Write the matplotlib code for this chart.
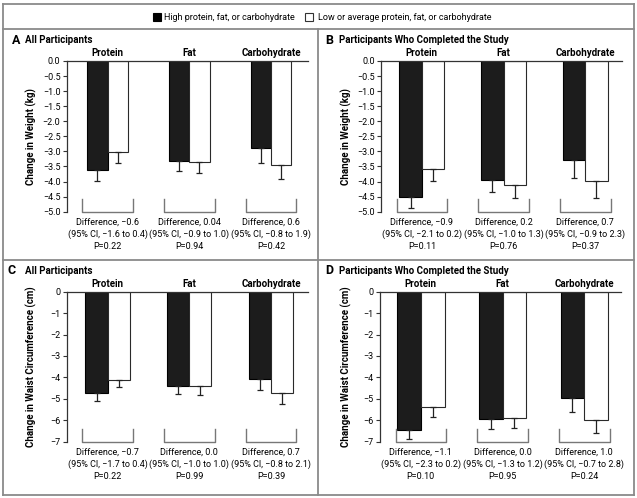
import numpy as np
import matplotlib.pyplot as plt
from matplotlib.patches import Rectangle
from matplotlib.lines import Line2D

plt.rcParams['font.family'] = ['Liberation Sans Narrow', 'Roboto', 'DejaVu Sans']

categories = ['Protein', 'Fat', 'Carbohydrate']

# weight, all participants (kg)
weight_all_high = [-3.63, -3.31, -2.90]
weight_all_high_err = [0.35, 0.34, 0.50]
weight_all_low = [-3.02, -3.34, -3.46]
weight_all_low_err = [0.35, 0.37, 0.47]

# weight, completers (kg)
weight_comp_high = [-4.51, -3.96, -3.27]
weight_comp_high_err = [0.38, 0.38, 0.60]
weight_comp_low = [-3.57, -4.13, -3.99]
weight_comp_low_err = [0.42, 0.42, 0.56]

# waist, all participants (cm)
waist_all_high = [-4.74, -4.40, -4.06]
waist_all_high_err = [0.38, 0.37, 0.54]
waist_all_low = [-4.11, -4.42, -4.71]
waist_all_low_err = [0.35, 0.40, 0.53]

# waist, completers (cm)
waist_comp_high = [-6.45, -5.96, -4.96]
waist_comp_high_err = [0.42, 0.45, 0.65]
waist_comp_low = [-5.38, -5.89, -6.00]
waist_comp_low_err = [0.48, 0.46, 0.58]

weight_ticks = [0.0, -0.5, -1.0, -1.5, -2.0, -2.5, -3.0, -3.5, -4.0, -4.5, -5.0]
waist_ticks = [0, -1, -2, -3, -4, -5, -6, -7]

diff_a = ['Difference, \u22120.6\n(95% CI, \u22121.6 to 0.4)\nP=0.22',
          'Difference, 0.04\n(95% CI, \u22120.9 to 1.0)\nP=0.94',
          'Difference, 0.6\n(95% CI, \u22120.8 to 1.9)\nP=0.42']
diff_b = ['Difference, \u22120.9\n(95% CI, \u22122.1 to 0.2)\nP=0.11',
          'Difference, 0.2\n(95% CI, \u22121.0 to 1.3)\nP=0.76',
          'Difference, 0.7\n(95% CI, \u22120.9 to 2.3)\nP=0.37']
diff_c = ['Difference, \u22120.7\n(95% CI, \u22121.7 to 0.4)\nP=0.22',
          'Difference, 0.0\n(95% CI, \u22121.0 to 1.0)\nP=0.99',
          'Difference, 0.7\n(95% CI, \u22120.8 to 2.1)\nP=0.39']
diff_d = ['Difference, \u22121.1\n(95% CI, \u22122.3 to 0.2)\nP=0.10',
          'Difference, 0.0\n(95% CI, \u22121.3 to 1.2)\nP=0.95',
          'Difference, 1.0\n(95% CI, \u22120.7 to 2.8)\nP=0.24']

W, H = 637, 498
FRAME = '#8a8a8a'


def fx(x):
    return x / W


def fy(y):
    return 1 - y / H


def fmt_tick(v, dec):
    s = f'{abs(v):.{dec}f}'
    return s if v == 0 else '\u2212' + s


fig = plt.figure(figsize=(W / 100, H / 100), dpi=100)

# outer frame and dividers
for xs, ys in [([3, 634], [4, 4]), ([3, 634], [495, 495]), ([3, 3], [4, 495]),
               ([634, 634], [4, 495]), ([3, 634], [29, 29]), ([3, 634], [260, 260]),
               ([318, 318], [29, 495])]:
    fig.add_artist(Line2D([fx(v) for v in xs], [fy(v) for v in ys], color=FRAME, lw=1.3))

# legend
fig.add_artist(Rectangle((fx(153), fy(21)), 8 / W, 8 / H, transform=fig.transFigure,
                         facecolor='black', edgecolor='black', lw=0.8))
fig.text(fx(164), fy(17), 'High protein, fat, or carbohydrate', fontsize=6.5, va='center')
fig.add_artist(Rectangle((fx(305), fy(21)), 8 / W, 8 / H, transform=fig.transFigure,
                         facecolor='white', edgecolor='#333333', lw=0.8))
fig.text(fx(318), fy(17), 'Low or average protein, fat, or carbohydrate', fontsize=6.5, va='center')

panels = [
    dict(letter='A', title='All Participants', left=66.7, top=61, bottom=211.7,
         high=weight_all_high, high_err=weight_all_high_err, low=weight_all_low,
         low_err=weight_all_low_err, width=0.25, ticks=weight_ticks, dec=1,
         ylabel='Change in Weight (kg)', diffs=diff_a, lx=12, tx=25, ty=40, yl=31),
    dict(letter='B', title='Participants Who Completed the Study', left=381, top=61, bottom=211.7,
         high=weight_comp_high, high_err=weight_comp_high_err, low=weight_comp_low,
         low_err=weight_comp_low_err, width=0.275, ticks=weight_ticks, dec=1,
         ylabel='Change in Weight (kg)', diffs=diff_b, lx=325, tx=339, ty=40, yl=346),
    dict(letter='C', title='All Participants', left=66.7, top=291.7, bottom=441.7,
         high=waist_all_high, high_err=waist_all_high_err, low=waist_all_low,
         low_err=waist_all_low_err, width=0.27, ticks=waist_ticks, dec=0,
         ylabel='Change in Waist Circumference (cm)', diffs=diff_c, lx=8, tx=25, ty=271, yl=31),
    dict(letter='D', title='Participants Who Completed the Study', left=380, top=291.7, bottom=441.7,
         high=waist_comp_high, high_err=waist_comp_high_err, low=waist_comp_low,
         low_err=waist_comp_low_err, width=0.29, ticks=waist_ticks, dec=0,
         ylabel='Change in Waist Circumference (cm)', diffs=diff_d, lx=325, tx=339, ty=271, yl=346),
]

for p in panels:
    ax_w = 241
    ax = fig.add_axes([fx(p['left']), fy(p['bottom']), ax_w / W, (p['bottom'] - p['top']) / H])
    x = np.arange(len(categories))
    w = p['width']
    ymin = p['ticks'][-1]
    ax.bar(x - w / 2, p['high'], w, color='#1c1c1c', edgecolor='black', lw=0.8)
    ax.bar(x + w / 2, p['low'], w, color='white', edgecolor='#2a2a2a', lw=0.8)
    ax.errorbar(x - w / 2, p['high'], yerr=[p['high_err'], np.zeros(3)], fmt='none',
                ecolor='#222222', elinewidth=0.9, capsize=2, capthick=0.9)
    ax.errorbar(x + w / 2, p['low'], yerr=[p['low_err'], np.zeros(3)], fmt='none',
                ecolor='#222222', elinewidth=0.9, capsize=2, capthick=0.9)
    ax.set_xlim(-0.5, 2.45)
    ax.set_ylim(ymin, 0)
    ax.set_xticks([])
    ax.set_yticks(p['ticks'])
    ax.set_yticklabels([fmt_tick(t, p['dec']) for t in p['ticks']])
    ax.tick_params(axis='y', length=3, width=0.8, pad=1.5, labelsize=6.5, color='#333333')
    for s in ['right', 'bottom']:
        ax.spines[s].set_visible(False)
    ax.spines['top'].set_color('#333333')
    ax.spines['left'].set_color('#333333')
    ax.spines['top'].set_linewidth(0.9)
    ax.spines['left'].set_linewidth(0.9)
    ax.patch.set_alpha(0)

    bh = 13 / (p['bottom'] - p['top']) * abs(ymin)
    for i in x:
        ax.plot([i - 0.31, i - 0.31, i + 0.31, i + 0.31], [ymin + bh, ymin, ymin, ymin + bh],
                color='#777777', lw=1, clip_on=False)
        ax.annotate(categories[i], (i, 0), xytext=(0, 2), textcoords='offset points',
                    ha='center', va='bottom', fontsize=7, fontweight='bold', annotation_clip=False)
        ax.annotate(p['diffs'][i], (i, ymin), xytext=(0, -4.5), textcoords='offset points',
                    ha='center', va='top', fontsize=6.5, linespacing=1.35, annotation_clip=False)

    fig.text(fx(p['lx']), fy(p['ty']), p['letter'], fontsize=9, fontweight='bold', va='center')
    fig.text(fx(p['tx']), fy(p['ty']), p['title'], fontsize=7, fontweight='bold', va='center')
    fig.text(fx(p['yl']), fy((p['top'] + p['bottom']) / 2), p['ylabel'], rotation=90,
             fontsize=7, fontweight='bold', ha='center', va='center')

fig.savefig('out.png', dpi=100)
